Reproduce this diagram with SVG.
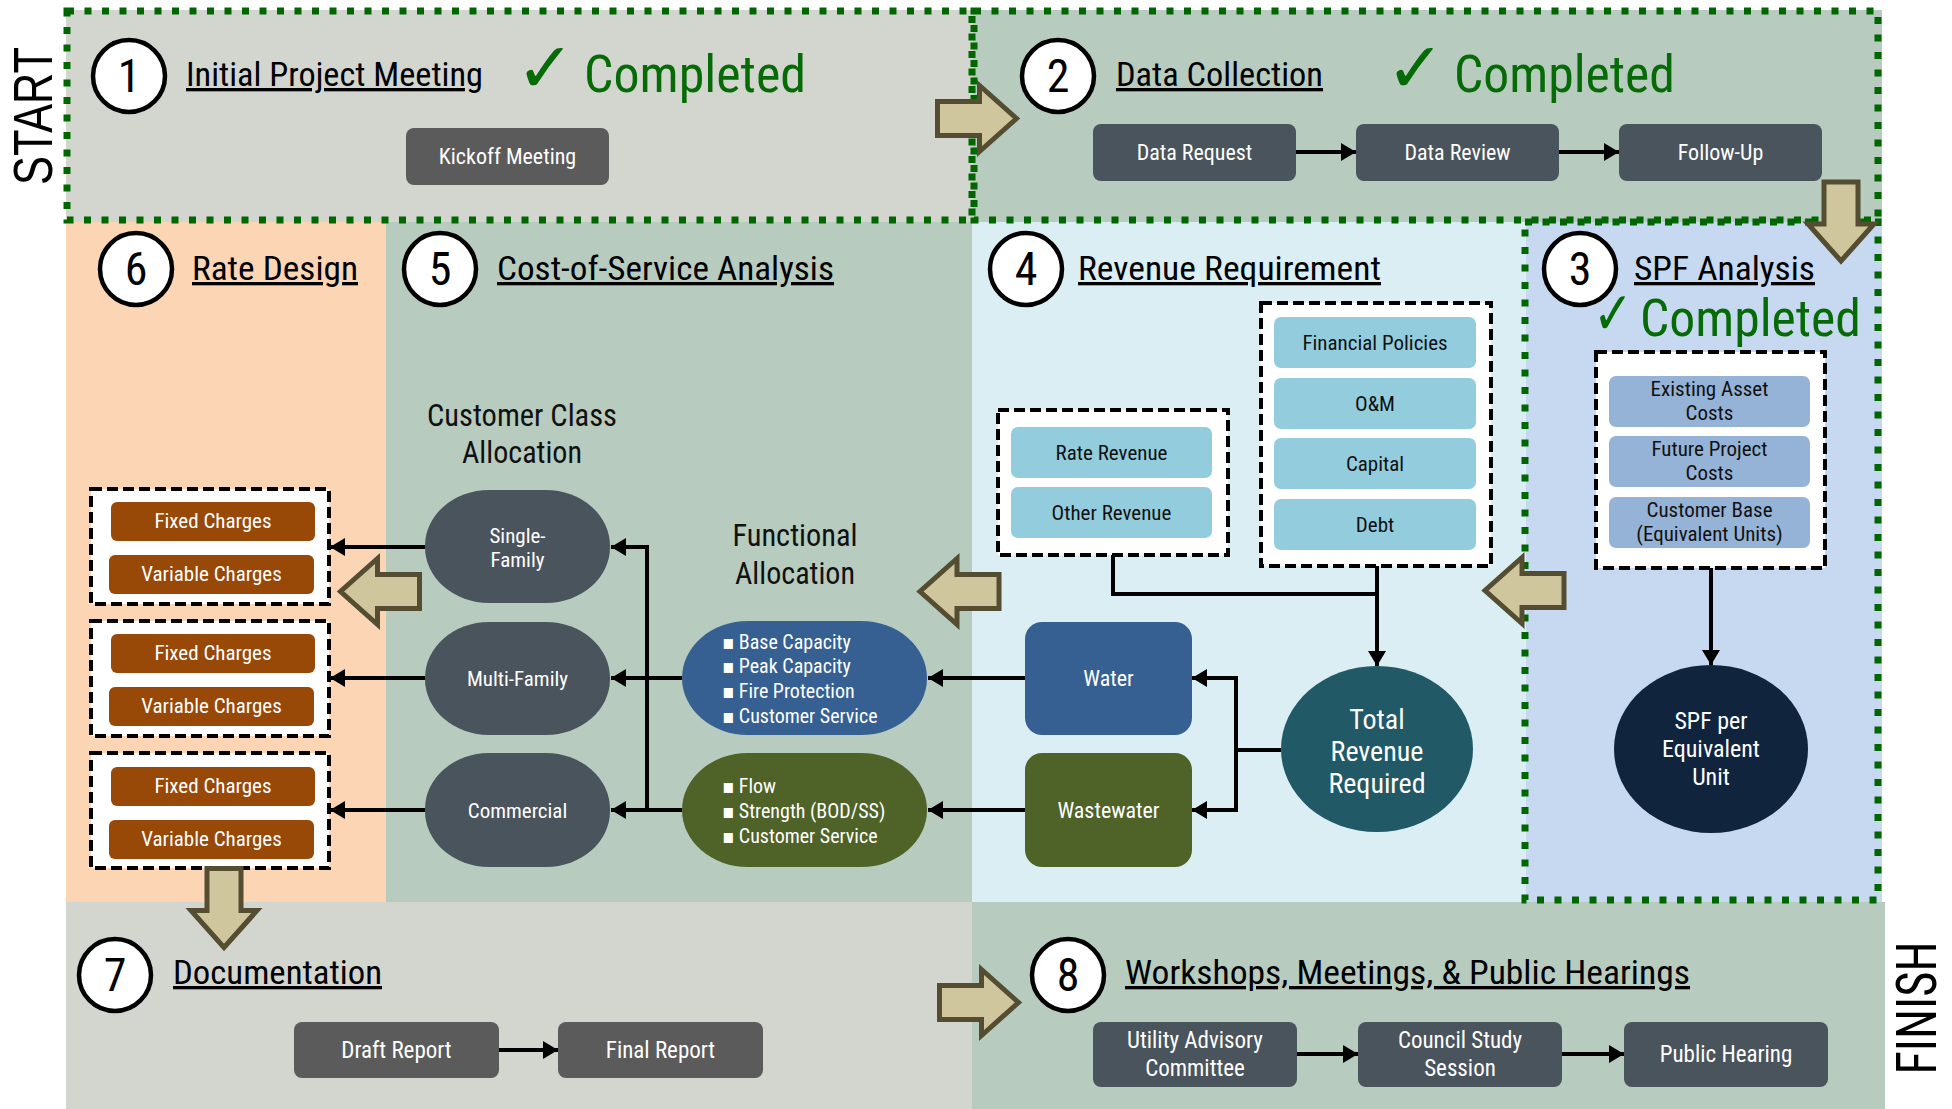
<svg xmlns="http://www.w3.org/2000/svg" width="1952" height="1109" viewBox="0 0 1952 1109">
<style>
 text { font-family: 'Liberation Sans Narrow','Arial Narrow','Roboto Condensed','DejaVu Sans Condensed',sans-serif; }
 .hd { font-size: 33px; fill: #000; text-decoration: underline; }
 .done { font-size: 52px; fill: #066b06; }
 .chk { font-family: 'DejaVu Sans', sans-serif; font-size: 70px; fill: #066b06; font-weight: bold; }
 .num { font-size: 46px; fill: #000; text-anchor: middle; }
 .circ { fill: #fff; stroke: #000; stroke-width: 4.5; }
 .dot { fill: none; stroke: #006600; stroke-width: 7; stroke-dasharray: 7 10.5; }
 .dash { fill: #fff; stroke: #000; stroke-width: 4; stroke-dasharray: 11 5; }
 .wt { fill: #fff; text-anchor: middle; font-size: 22px; }
 .dk { fill: #111; text-anchor: middle; font-size: 21px; }
 .bl { fill: #fff; font-size: 20px; }
 .con { fill: none; stroke: #000; stroke-width: 4; }
 .arr { marker-end: url(#ah); }
 .blk { fill: #cfc69d; stroke: #554d32; stroke-width: 5; stroke-linejoin: miter; }
 .lbl { font-size: 31px; fill: #111; text-anchor: middle; }
 .gbox { fill: #5b5b5b; }
 .sbox { fill: #4a545c; }
 .obox { fill: #984807; }
 .lb { fill: #93cddd; }
 .pb { fill: #95b3d7; }
</style>
<defs>
 <marker id="ah" markerUnits="userSpaceOnUse" markerWidth="16" markerHeight="18" refX="15" refY="9" orient="auto">
  <path d="M0,0 L15,9 L0,18 Z" fill="#000"/>
 </marker>
 <path id="ba" d="M-39,-17 H3 V-33 L40,0 L3,33 V17 H-39 Z"/>
</defs>

<g id="backgrounds">
 <rect x="66" y="10" width="907" height="212" fill="#d3d6cf"/>
 <rect x="973" y="10" width="909" height="212" fill="#b7cbbf"/>
 <rect x="66" y="222" width="320" height="680" fill="#fcd5b4"/>
 <rect x="386" y="222" width="586" height="680" fill="#b7cbbf"/>
 <rect x="972" y="222" width="554" height="680" fill="#daeef3"/>
 <rect x="1526" y="222" width="356" height="680" fill="#c6d9f1"/>
 <rect x="66" y="902" width="906" height="207" fill="#d3d6cf"/>
 <rect x="972" y="902" width="913" height="207" fill="#b7cbbf"/>
</g>

<g id="side-labels">
 <text transform="translate(52,116) rotate(-90)" text-anchor="middle" font-size="55" textLength="138" lengthAdjust="spacingAndGlyphs" style="font-family:'Liberation Sans',sans-serif" fill="#000">START</text>
 <text transform="translate(1936,1008) rotate(-90)" text-anchor="middle" font-size="56" textLength="133" lengthAdjust="spacingAndGlyphs" fill="#000">FINISH</text>
</g>

<g id="step1">
 <circle class="circ" cx="129" cy="76" r="36"/>
 <text class="num" x="129" y="92">1</text>
 <text class="hd" x="186" y="86" textLength="297" lengthAdjust="spacingAndGlyphs">Initial Project Meeting</text>
 <text class="chk" x="516" y="92">✓</text>
 <text class="done" x="584" y="92" textLength="222" lengthAdjust="spacingAndGlyphs">Completed</text>
 <g id="kickoff">
  <rect class="gbox" x="406" y="128" width="203" height="57" rx="8"/>
  <text class="wt" x="507.5" y="164">Kickoff Meeting</text>
 </g>
</g>

<g id="step2">
 <circle class="circ" cx="1058" cy="76" r="36"/>
 <text class="num" x="1058" y="92">2</text>
 <text class="hd" x="1116" y="86" textLength="207" lengthAdjust="spacingAndGlyphs">Data Collection</text>
 <text class="chk" x="1386" y="92">✓</text>
 <text class="done" x="1454" y="92" textLength="221" lengthAdjust="spacingAndGlyphs">Completed</text>
 <g id="data-request">
  <rect class="sbox" x="1093" y="124" width="203" height="57" rx="8"/>
  <text class="wt" x="1194.5" y="160">Data Request</text>
 </g>
 <g id="data-review">
  <rect class="sbox" x="1356" y="124" width="203" height="57" rx="8"/>
  <text class="wt" x="1457.5" y="160">Data Review</text>
 </g>
 <g id="follow-up">
  <rect class="sbox" x="1619" y="124" width="203" height="57" rx="8"/>
  <text class="wt" x="1720.5" y="160">Follow-Up</text>
 </g>
</g>

<g id="step3">
 <circle class="circ" cx="1580" cy="269" r="36"/>
 <text class="num" x="1580" y="285">3</text>
 <text class="hd" x="1634" y="280" textLength="181" lengthAdjust="spacingAndGlyphs">SPF Analysis</text>
 <text class="chk" x="1593" y="334" style="font-size:60px" textLength="40" lengthAdjust="spacingAndGlyphs">✓</text>
 <text class="done" x="1640" y="336" textLength="221" lengthAdjust="spacingAndGlyphs">Completed</text>
 <g id="spf-inputs">
  <rect class="dash" x="1596" y="352" width="229" height="216"/>
  <rect class="pb" x="1609" y="376" width="201" height="51" rx="7"/>
  <text class="dk" x="1709.5" y="396">Existing Asset</text>
  <text class="dk" x="1709.5" y="420">Costs</text>
  <rect class="pb" x="1609" y="436" width="201" height="51" rx="7"/>
  <text class="dk" x="1709.5" y="456">Future Project</text>
  <text class="dk" x="1709.5" y="480">Costs</text>
  <rect class="pb" x="1609" y="497" width="201" height="51" rx="7"/>
  <text class="dk" x="1709.5" y="517">Customer Base</text>
  <text class="dk" x="1709.5" y="541">(Equivalent Units)</text>
 </g>
 <g id="spf-unit">
  <ellipse cx="1711" cy="749" rx="97" ry="84" fill="#10243e"/>
  <text class="wt" x="1711" y="729" style="font-size:24px">SPF per</text>
  <text class="wt" x="1711" y="757" style="font-size:24px">Equivalent</text>
  <text class="wt" x="1711" y="785" style="font-size:24px">Unit</text>
 </g>
</g>

<g id="step4">
 <circle class="circ" cx="1026" cy="269" r="36"/>
 <text class="num" x="1026" y="285">4</text>
 <text class="hd" x="1078" y="280" textLength="303" lengthAdjust="spacingAndGlyphs">Revenue Requirement</text>
 <g id="revenues">
  <rect class="dash" x="998" y="410" width="230" height="145"/>
  <rect class="lb" x="1011" y="427" width="201" height="51" rx="7"/>
  <text class="dk" x="1111.5" y="460">Rate Revenue</text>
  <rect class="lb" x="1011" y="487" width="201" height="51" rx="7"/>
  <text class="dk" x="1111.5" y="520">Other Revenue</text>
 </g>
 <g id="costs">
  <rect class="dash" x="1261" y="303" width="230" height="263"/>
  <rect class="lb" x="1274" y="317" width="202" height="51" rx="7"/>
  <text class="dk" x="1375" y="350">Financial Policies</text>
  <rect class="lb" x="1274" y="378" width="202" height="51" rx="7"/>
  <text class="dk" x="1375" y="411">O&amp;M</text>
  <rect class="lb" x="1274" y="438" width="202" height="51" rx="7"/>
  <text class="dk" x="1375" y="471">Capital</text>
  <rect class="lb" x="1274" y="499" width="202" height="51" rx="7"/>
  <text class="dk" x="1375" y="532">Debt</text>
 </g>
 <g id="total-revenue">
  <ellipse cx="1377" cy="749" rx="96" ry="83" fill="#215967"/>
  <text class="wt" x="1377" y="729" style="font-size:28px">Total</text>
  <text class="wt" x="1377" y="761" style="font-size:28px">Revenue</text>
  <text class="wt" x="1377" y="793" style="font-size:28px">Required</text>
 </g>
 <g id="water">
  <rect x="1025" y="622" width="167" height="113" rx="17" fill="#366092"/>
  <text class="wt" x="1108.5" y="686">Water</text>
 </g>
 <g id="wastewater">
  <rect x="1025" y="753" width="167" height="114" rx="17" fill="#4f6228"/>
  <text class="wt" x="1108.5" y="818">Wastewater</text>
 </g>
</g>

<g id="step5">
 <circle class="circ" cx="440" cy="269" r="36"/>
 <text class="num" x="440" y="285">5</text>
 <text class="hd" x="497" y="280" textLength="337" lengthAdjust="spacingAndGlyphs">Cost-of-Service Analysis</text>
 <text class="lbl" x="522" y="426" textLength="190" lengthAdjust="spacingAndGlyphs">Customer Class</text>
 <text class="lbl" x="522" y="463" textLength="120" lengthAdjust="spacingAndGlyphs">Allocation</text>
 <text class="lbl" x="795" y="546" textLength="125" lengthAdjust="spacingAndGlyphs">Functional</text>
 <text class="lbl" x="795" y="584" textLength="120" lengthAdjust="spacingAndGlyphs">Allocation</text>
 <g id="single-family">
  <rect class="sbox" x="425" y="490" width="185" height="113" rx="64" ry="56"/>
  <text class="wt" x="517.5" y="543" style="font-size:21px">Single-</text>
  <text class="wt" x="517.5" y="567" style="font-size:21px">Family</text>
 </g>
 <g id="multi-family">
  <rect class="sbox" x="425" y="622" width="185" height="113" rx="64" ry="56"/>
  <text class="wt" x="517.5" y="686" style="font-size:21px">Multi-Family</text>
 </g>
 <g id="commercial">
  <rect class="sbox" x="425" y="753" width="185" height="114" rx="64" ry="56"/>
  <text class="wt" x="517.5" y="818" style="font-size:21px">Commercial</text>
 </g>
 <g id="water-functions">
  <rect x="682" y="621" width="245" height="114" rx="66" ry="57" fill="#366092"/>
  <text class="bl" x="722" y="649">▪ Base Capacity</text>
  <text class="bl" x="722" y="673">▪ Peak Capacity</text>
  <text class="bl" x="722" y="698">▪ Fire Protection</text>
  <text class="bl" x="722" y="723">▪ Customer Service</text>
 </g>
 <g id="wastewater-functions">
  <rect x="682" y="753" width="245" height="114" rx="66" ry="57" fill="#4f6228"/>
  <text class="bl" x="722" y="793">▪ Flow</text>
  <text class="bl" x="722" y="818">▪ Strength (BOD/SS)</text>
  <text class="bl" x="722" y="843">▪ Customer Service</text>
 </g>
</g>

<g id="step6">
 <circle class="circ" cx="136" cy="269" r="36"/>
 <text class="num" x="136" y="285">6</text>
 <text class="hd" x="192" y="280" textLength="166" lengthAdjust="spacingAndGlyphs">Rate Design</text>
 <g id="rates-sf">
  <rect class="dash" x="91" y="489" width="238" height="115"/>
  <rect class="obox" x="111" y="502" width="204" height="39" rx="6"/>
  <text class="wt" x="213" y="528" style="font-size:21px">Fixed Charges</text>
  <rect class="obox" x="109" y="555" width="205" height="39" rx="6"/>
  <text class="wt" x="211.5" y="581" style="font-size:21px">Variable Charges</text>
 </g>
 <g id="rates-mf">
  <rect class="dash" x="91" y="621" width="238" height="115"/>
  <rect class="obox" x="111" y="634" width="204" height="39" rx="6"/>
  <text class="wt" x="213" y="660" style="font-size:21px">Fixed Charges</text>
  <rect class="obox" x="109" y="687" width="205" height="39" rx="6"/>
  <text class="wt" x="211.5" y="713" style="font-size:21px">Variable Charges</text>
 </g>
 <g id="rates-com">
  <rect class="dash" x="91" y="753" width="238" height="115"/>
  <rect class="obox" x="111" y="767" width="204" height="39" rx="6"/>
  <text class="wt" x="213" y="793" style="font-size:21px">Fixed Charges</text>
  <rect class="obox" x="109" y="820" width="205" height="39" rx="6"/>
  <text class="wt" x="211.5" y="846" style="font-size:21px">Variable Charges</text>
 </g>
</g>

<g id="step7">
 <circle class="circ" cx="115" cy="975" r="36"/>
 <text class="num" x="115" y="991">7</text>
 <text class="hd" x="173" y="984" textLength="209" lengthAdjust="spacingAndGlyphs">Documentation</text>
 <g id="draft-report">
  <rect class="gbox" x="294" y="1022" width="205" height="56" rx="8"/>
  <text class="wt" x="396.5" y="1058" style="font-size:23px">Draft Report</text>
 </g>
 <g id="final-report">
  <rect class="gbox" x="558" y="1022" width="205" height="56" rx="8"/>
  <text class="wt" x="660.5" y="1058" style="font-size:23px">Final Report</text>
 </g>
</g>

<g id="step8">
 <circle class="circ" cx="1068" cy="975" r="36"/>
 <text class="num" x="1068" y="991">8</text>
 <text class="hd" x="1125" y="984" textLength="565" lengthAdjust="spacingAndGlyphs">Workshops, Meetings, &amp; Public Hearings</text>
 <g id="uac">
  <rect class="sbox" x="1093" y="1022" width="204" height="65" rx="8"/>
  <text class="wt" x="1195" y="1048" style="font-size:23px">Utility Advisory</text>
  <text class="wt" x="1195" y="1076" style="font-size:23px">Committee</text>
 </g>
 <g id="council">
  <rect class="sbox" x="1358" y="1022" width="204" height="65" rx="8"/>
  <text class="wt" x="1460" y="1048" style="font-size:23px">Council Study</text>
  <text class="wt" x="1460" y="1076" style="font-size:23px">Session</text>
 </g>
 <g id="public-hearing">
  <rect class="sbox" x="1624" y="1022" width="204" height="65" rx="8"/>
  <text class="wt" x="1726" y="1062" style="font-size:23px">Public Hearing</text>
 </g>
</g>

<g id="phase-borders">
 <rect class="dot" x="67" y="11" width="905" height="209"/>
 <rect class="dot" x="974" y="11" width="904" height="209"/>
 <rect class="dot" x="1525" y="222" width="353" height="678"/>
</g>

<g id="connectors">
 <path class="con arr" d="M1296,152 H1356"/>
 <path class="con arr" d="M1559,152 H1619"/>
 <path class="con arr" d="M499,1050 H558"/>
 <path class="con arr" d="M1297,1054 H1358"/>
 <path class="con arr" d="M1562,1054 H1624"/>
 <path class="con" d="M1113,555 V594 H1377"/>
 <path class="con arr" d="M1377,566 V666"/>
 <path class="con arr" d="M1711,568 V665"/>
 <path class="con" d="M1281,750 H1236 M1236,676 V812"/>
 <path class="con arr" d="M1238,678 H1192"/>
 <path class="con arr" d="M1238,810 H1192"/>
 <path class="con arr" d="M1025,678 H928"/>
 <path class="con arr" d="M1025,810 H928"/>
 <path class="con" d="M647,545 V812"/>
 <path class="con arr" d="M682,678 H611"/>
 <path class="con arr" d="M682,810 H611"/>
 <path class="con arr" d="M649,547 H611"/>
 <path class="con arr" d="M425,547 H330"/>
 <path class="con arr" d="M425,678 H330"/>
 <path class="con arr" d="M425,810 H330"/>
</g>

<g id="phase-arrows">
 <use href="#ba" class="blk" transform="translate(976.5,118.5)"/>
 <use href="#ba" class="blk" transform="translate(1841,221) rotate(90)"/>
 <use href="#ba" class="blk" transform="translate(1525,590.5) rotate(180)"/>
 <use href="#ba" class="blk" transform="translate(960,591.5) rotate(180)"/>
 <use href="#ba" class="blk" transform="translate(380.5,591.5) rotate(180)"/>
 <use href="#ba" class="blk" transform="translate(224,907.5) rotate(90)"/>
 <use href="#ba" class="blk" transform="translate(978.5,1002.5)"/>
</g>
</svg>
